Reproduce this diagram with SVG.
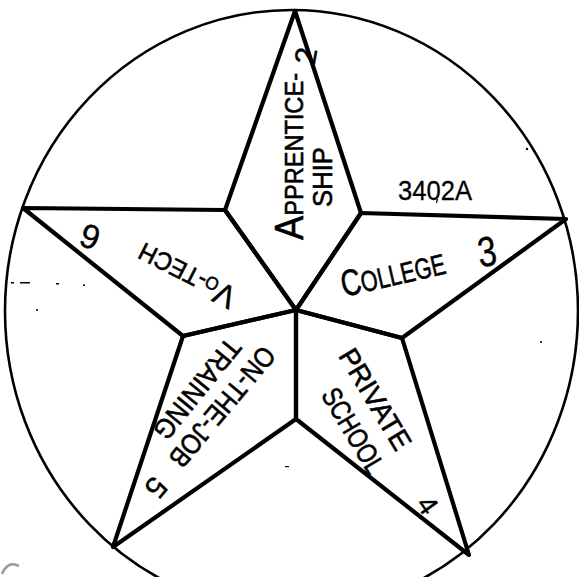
<svg xmlns="http://www.w3.org/2000/svg" width="579" height="577" viewBox="0 0 579 577">
<style>
.rim{fill:none;stroke:#000;stroke-width:2.6}
.kite{fill:none;stroke:#000;stroke-width:4.2;stroke-linejoin:round;stroke-linecap:round}
.lbl{font-family:"Liberation Sans",Arial,sans-serif;font-size:28px;fill:#000;stroke:#000;stroke-width:0.6}
.hand{font-family:"Liberation Sans",Arial,sans-serif;fill:#000;stroke:#000;stroke-width:0.4}
.speck{fill:#000}
</style>
<rect width="579" height="577" fill="#fff"/>
<g id="rim">
<ellipse class="rim" cx="291.5" cy="311" rx="286.5" ry="301"/>
</g>
<g id="connectors"></g>
<g id="apprenticeship">
<polygon class="kite" points="296,310 225,210 295,11 361,213"/>
<text class="lbl" transform="translate(303,240) rotate(-90)" textLength="167" lengthAdjust="spacingAndGlyphs"><tspan font-size="40">A</tspan><tspan font-size="26">PPRENTICE-</tspan></text>
<text class="lbl" font-size="24" transform="translate(332,207) rotate(-90)" textLength="60" lengthAdjust="spacingAndGlyphs">SHIP</text>
<text class="hand" font-size="30" transform="translate(306,56) rotate(-80)" y="10" text-anchor="middle">2</text>
</g>
<g id="college">
<polygon class="kite" points="296,310 361,213 566,219 402,338"/>
<text class="lbl" transform="translate(344,297) rotate(-13)" textLength="106" lengthAdjust="spacingAndGlyphs"><tspan font-size="37">C</tspan><tspan font-size="29">OLLEGE</tspan></text>
<text class="hand" font-size="42" transform="translate(487,251) rotate(-8) scale(0.8,1)" y="15" text-anchor="middle">3</text>
</g>
<g id="private-school">
<polygon class="kite" points="296,310 402,338 469,555 296,419"/>
<text class="lbl" font-size="29" transform="translate(375.5,399) rotate(59)" y="10" text-anchor="middle" textLength="113" lengthAdjust="spacingAndGlyphs">PRIVATE</text>
<text class="lbl" font-size="29" transform="translate(353.5,430.5) rotate(59)" y="10" text-anchor="middle" textLength="95" lengthAdjust="spacingAndGlyphs">SCHOOL</text>
<text class="hand" font-size="28" transform="translate(428,505) rotate(55)" y="10" text-anchor="middle">4</text>
</g>
<g id="on-the-job-training">
<polygon class="kite" points="296,310 296,419 113,547 183,336"/>
<text class="lbl" font-size="29" transform="translate(222.5,407) rotate(130)" y="10" text-anchor="middle" textLength="148" lengthAdjust="spacingAndGlyphs">ON-THE-JOB</text>
<text class="lbl" font-size="29" transform="translate(197.5,389) rotate(129)" y="10" text-anchor="middle" textLength="121" lengthAdjust="spacingAndGlyphs">TRAINING</text>
<text class="hand" font-size="30" transform="translate(156.5,488) rotate(130)" y="11" text-anchor="middle">5</text>
</g>
<g id="vo-tech">
<polygon class="kite" points="296,310 183,336 23,208 225,210"/>
<text class="lbl" transform="translate(187.5,274) rotate(207)" y="9" text-anchor="middle" textLength="106" lengthAdjust="spacingAndGlyphs"><tspan font-size="32">V</tspan><tspan font-size="18">O</tspan><tspan font-size="25">-TECH</tspan></text>
<text class="hand" font-size="34" transform="translate(90,237) rotate(200)" y="12" text-anchor="middle">6</text>
</g>
<g id="doc-number">
<text class="lbl" font-size="27" style="stroke-width:0.3" x="398" y="200" textLength="74" lengthAdjust="spacingAndGlyphs">3402A</text>
<line x1="437.5" y1="199" x2="436.5" y2="203" stroke="#000" stroke-width="1.2"/>
</g>
<g id="specks">
<rect class="speck" x="11" y="282" width="3" height="1.5"/>
<rect class="speck" x="20" y="282" width="10" height="1.5"/>
<rect class="speck" x="56" y="283" width="3" height="1.5"/>
<rect class="speck" x="83" y="284.5" width="2" height="1.5"/>
<circle class="speck" cx="37" cy="310" r="1"/>
<circle class="speck" cx="527" cy="149" r="1.2"/>
<circle class="speck" cx="541" cy="342" r="1"/>
<rect class="speck" x="285" y="466" width="4" height="1.2"/>
<path d="M2,574 Q8,560 19,566" fill="none" stroke="#999" stroke-width="2.5"/>
</g>
</svg>
